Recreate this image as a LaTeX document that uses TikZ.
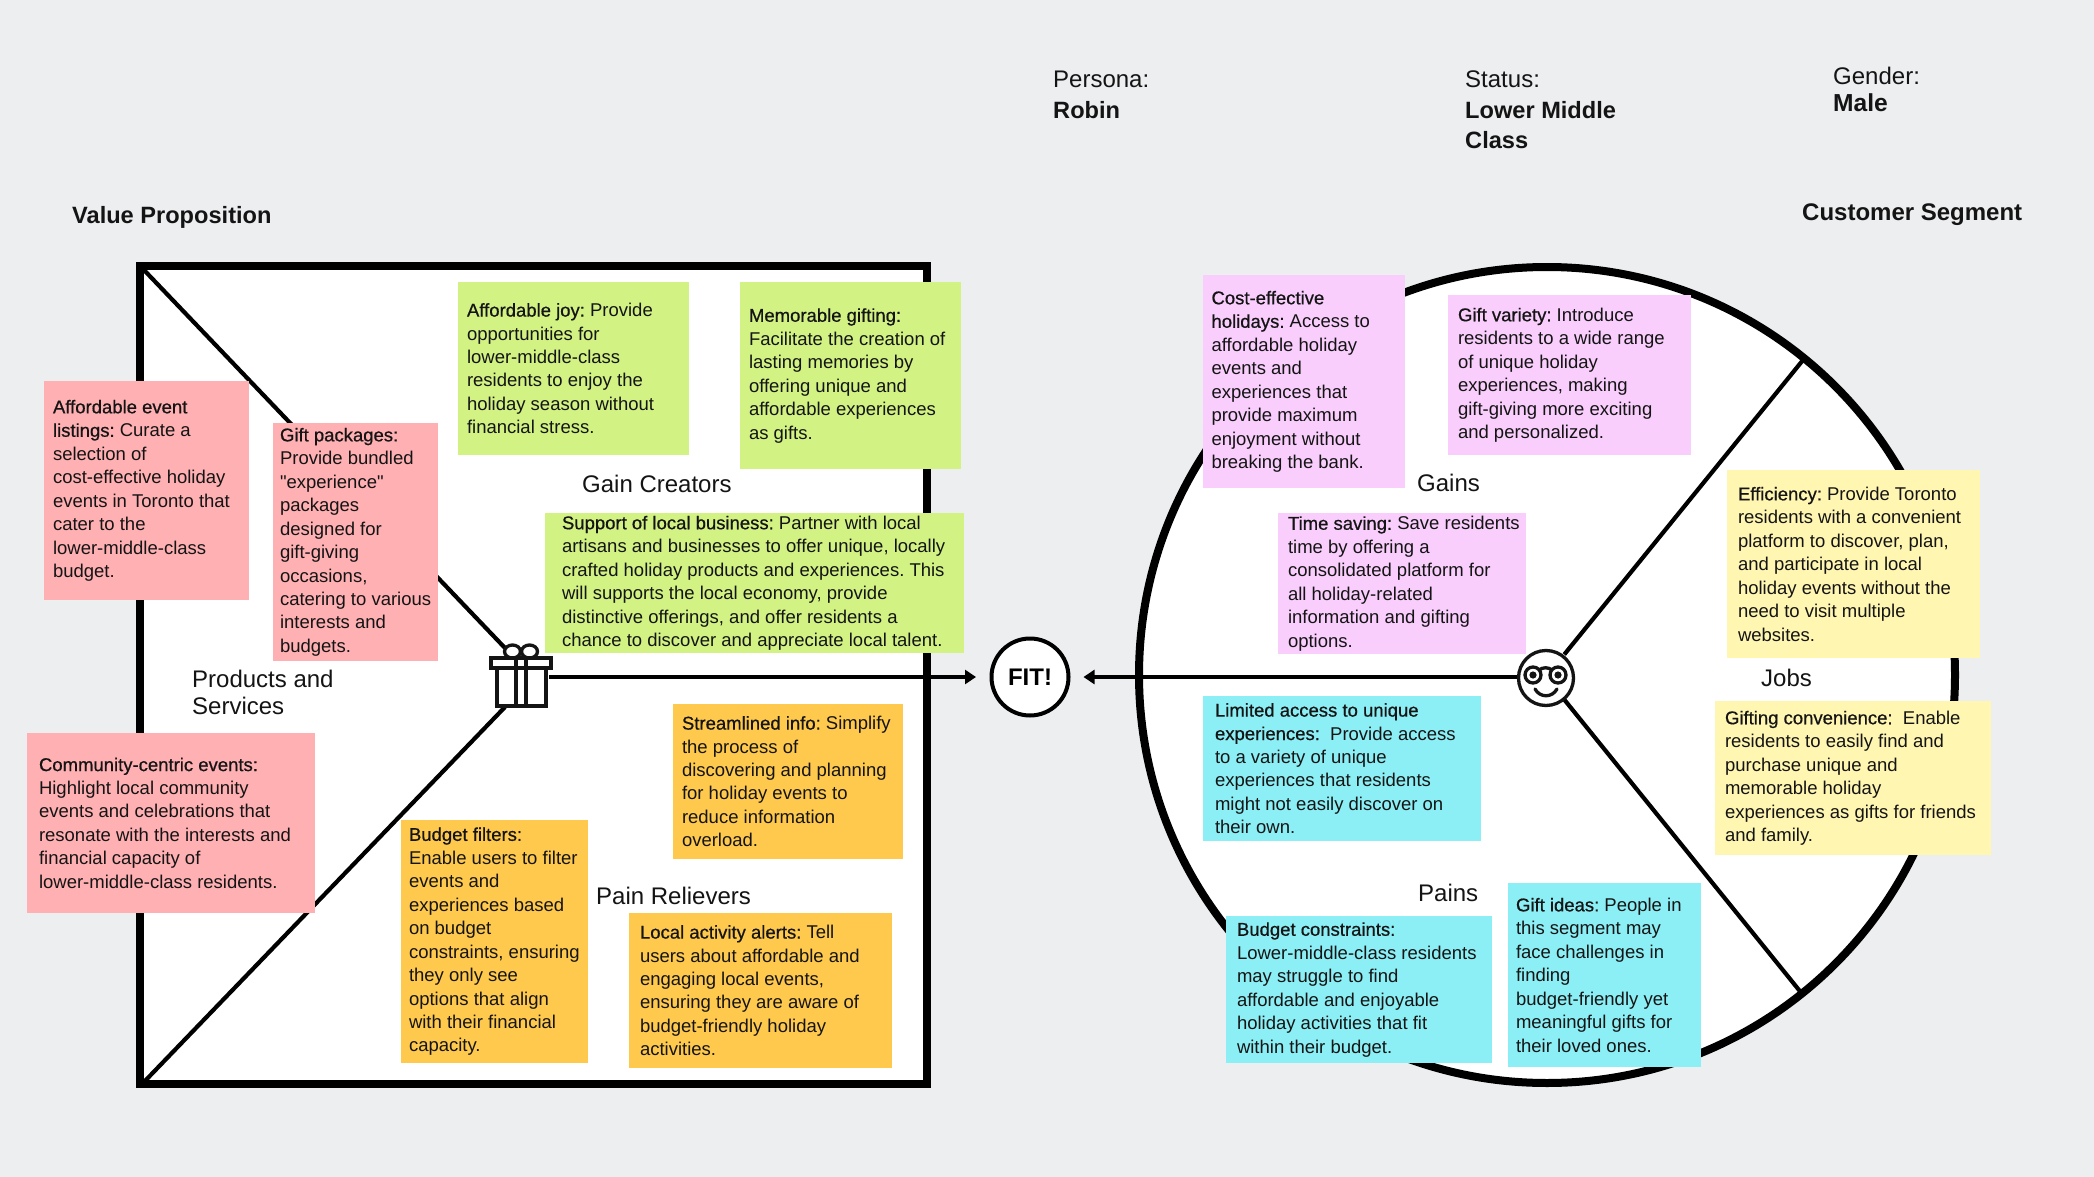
\documentclass[tikz,border=0pt]{standalone}
\usepackage{fontspec}
\setmainfont{Liberation Sans}
\newfontface\medface{Liberation Sans}[FakeBold=0.6]
\newcommand{\md}[1]{{\medface #1}}
\newcommand{\sq}{\XeTeXglyph\XeTeXcharglyph"0022\relax}
\usetikzlibrary{arrows.meta}
\definecolor{bgc}{HTML}{EDEEF0}
\definecolor{inkc}{HTML}{141414}
\definecolor{pinkc}{HTML}{FFB0B3}
\definecolor{greenc}{HTML}{D2F283}
\definecolor{orangec}{HTML}{FFC94E}
\definecolor{violetc}{HTML}{F9CEFC}
\definecolor{cyanc}{HTML}{8BEFF5}
\definecolor{yellowc}{HTML}{FFF6B2}
\tikzset{
  stickybox/.style={inner sep=0pt,outer sep=0pt},
  stickytext/.style={inner sep=0pt,outer sep=0pt,align=left,text=inkc,font=\fontsize{18.5}{23.45}\selectfont},
  label/.style={inner sep=0pt,anchor=west,align=left,text=inkc,font=\fontsize{24}{27}\selectfont},
  head/.style={inner sep=0pt,anchor=west,align=left,text=inkc,font=\fontsize{23.6}{30}\selectfont\bfseries},
  frameline/.style={line width=8pt,draw=black},
  spoke/.style={line width=4.2pt,draw=black},
  fitarrow/.style={line width=4.2pt,draw=black,-{Triangle[length=11pt,width=14pt]}},
  iconline/.style={line width=3.3pt,draw=inkc},
  hook/.style={inner sep=0pt,outer sep=0pt}
}
\newcommand{\sticky}[8]{%
  \node[stickybox,fill=#6,minimum width={(#4-#2)*1pt},minimum height={(#5-#3)*1pt}] (#1) at ({(#2+#4)/2},{(#3+#5)/2}) {};
  \node[stickytext,anchor=west] (#1-t) at ({#2+#7},{(#3+#5)/2+0.1}) {#8};}
\begin{document}
\frenchspacing
\begin{tikzpicture}[x=1pt,y=-1pt]
\useasboundingbox (0,0) rectangle (2094,1177);
\fill[bgc] (0,0) rectangle (2094,1177);
% frame and wheel
\draw[frameline,fill=white] (140,266) rectangle (927,1084);
\draw[frameline,fill=white] (1547,675) circle (408);
% hooks
\node[hook,minimum width=56pt,minimum height=60pt] (gift) at (521,677) {};
\node[hook,circle,minimum size=58pt] (smiley) at (1546,677) {};
\node[hook,circle,draw=black,line width=4pt,fill=white,minimum size=77pt,font=\fontsize{24}{26}\selectfont\bfseries] (fit) at (1030,677) {FIT!};
\coordinate (sqTL) at (144,270);
\coordinate (sqBL) at (144,1082);
\coordinate (giftTop) at (505,648);
\coordinate (giftBot) at (505,707);
\coordinate (spokeUp) at (1803,360);
\coordinate (spokeDown) at (1803,995);
% connectors
\draw[spoke] (sqTL) -- (giftTop);
\draw[spoke] (sqBL) -- (giftBot);
\draw[spoke] (smiley) -- (spokeUp);
\draw[spoke] (smiley) -- (spokeDown);
\draw[fitarrow,shorten >=15.5pt] (gift.east) -- (fit.west);
\draw[fitarrow,shorten >=15pt] (smiley.west) -- (fit.east);
% gift icon
\draw[iconline,fill=white] (512.5,651.5) ellipse (8 and 6.5);
\draw[iconline,fill=white] (529.5,651.5) ellipse (8 and 6.5);
\draw[iconline,fill=white] (497,665) rectangle (546,706);
\draw[iconline,fill=white] (491,658) rectangle (551,668);
\draw[iconline] (516,658) -- (516,706);
\draw[iconline] (526,658) -- (526,706);
% smiley icon
\draw[iconline,fill=white] (1546,678) circle (27.5);
\draw[iconline] (1533,675) circle (8);
\draw[iconline] (1558,675) circle (8);
\fill[inkc] (1533,675) circle (3.6);
\fill[inkc] (1558,675) circle (3.6);
\draw[iconline] (1539,670) .. controls (1543,667) and (1548,667) .. (1552,670);
\draw[iconline,line cap=round] (1535,689) .. controls (1540,698) and (1552,698) .. (1557,689);
% header texts
\node[label] (persona) at (1053,79) {Persona:};
\node[head] (robin) at (1053,110) {Robin};
\node[label] (status) at (1465,79) {Status:};
\node[head] (lmc) at (1465,125.5) {Lower Middle\\Class};
\node[label] (gender) at (1833,76) {Gender:};
\node[head,font=\fontsize{24.6}{30}\selectfont\bfseries] (male) at (1833,103) {Male};
\node[head] (vp) at (72,217.5) {Value Proposition};
\node[head,font=\fontsize{24}{30}\selectfont\bfseries] (cs) at (1802,214.5) {Customer Segment};
% section labels
\node[label] (gc) at (582,483.5) {Gain Creators};
\node[label] (ps) at (192,692) {Products and\\Services};
\node[label] (pr) at (596,896) {Pain Relievers};
\node[label] (gains) at (1417,483) {Gains};
\node[label] (jobs) at (1761,677.5) {Jobs};
\node[label] (pains) at (1418,893) {Pains};
% sticky notes
\sticky{n1}{44}{381}{249}{600}{pinkc}{9}{\md{Affordable event}\\\md{listings:} Curate a\\selection of\\cost-effective holiday\\events in Toronto that\\cater to the\\lower-middle-class\\budget.}
\sticky{n2}{273}{423}{438}{661}{pinkc}{7}{\md{Gift packages:}\\Provide bundled\\\sq experience\sq\\packages\\designed for\\gift-giving\\occasions,\\catering to various\\interests and\\budgets.}
\sticky{n3}{27}{733}{315}{913}{pinkc}{12}{\md{Community-centric events:}\\Highlight local community\\events and celebrations that\\resonate with the interests and\\financial capacity of\\lower-middle-class residents.}
\sticky{n4}{458}{282}{689}{455}{greenc}{9}{\md{Affordable joy:} Provide\\opportunities for\\lower-middle-class\\residents to enjoy the\\holiday season without\\financial stress.}
\sticky{n5}{740}{282}{961}{469}{greenc}{9}{\md{Memorable gifting:}\\Facilitate the creation of\\lasting memories by\\offering unique and\\affordable experiences\\as gifts.}
\sticky{n6}{545}{513}{964}{653}{greenc}{17}{\md{Support of local business:} Partner with local\\artisans and businesses to offer unique, locally\\crafted holiday products and experiences. This\\will supports the local economy, provide\\distinctive offerings, and offer residents a\\chance to discover and appreciate local talent.}
\sticky{n7}{673}{704}{903}{859}{orangec}{9}{\md{Streamlined info:} Simplify\\the process of\\discovering and planning\\for holiday events to\\reduce information\\overload.}
\sticky{n8}{401}{820}{588}{1063}{orangec}{8}{\md{Budget filters:}\\Enable users to filter\\events and\\experiences based\\on budget\\constraints, ensuring\\they only see\\options that align\\with their financial\\capacity.}
\sticky{n9}{629}{913}{892}{1068}{orangec}{11}{\md{Local activity alerts:} Tell\\users about affordable and\\engaging local events,\\ensuring they are aware of\\budget-friendly holiday\\activities.}
\sticky{n10}{1203}{275}{1405}{488}{violetc}{8.5}{\md{Cost-effective}\\\md{holidays:} Access to\\affordable holiday\\events and\\experiences that\\provide maximum\\enjoyment without\\breaking the bank.}
\sticky{n11}{1448}{295}{1691}{455}{violetc}{10}{\md{Gift variety:} Introduce\\residents to a wide range\\of unique holiday\\experiences, making\\gift-giving more exciting\\and personalized.}
\sticky{n12}{1278}{513}{1526}{654}{violetc}{10}{\md{Time saving:} Save residents\\time by offering a\\consolidated platform for\\all holiday-related\\information and gifting\\options.}
\sticky{n13}{1203}{696}{1481}{841}{cyanc}{12}{\md{Limited access to unique}\\\md{experiences:}\ \ Provide access\\to a variety of unique\\experiences that residents\\might not easily discover on\\their own.}
\sticky{n14}{1226}{916}{1492}{1063}{cyanc}{11}{\md{Budget constraints:}\\Lower-middle-class residents\\may struggle to find\\affordable and enjoyable\\holiday activities that fit\\within their budget.}
\sticky{n15}{1508}{883}{1701}{1067}{cyanc}{8}{\md{Gift ideas:} People in\\this segment may\\face challenges in\\finding\\budget-friendly yet\\meaningful gifts for\\their loved ones.}
\sticky{n16}{1727}{470}{1980}{658}{yellowc}{11}{\md{Efficiency:} Provide Toronto\\residents with a convenient\\platform to discover, plan,\\and participate in local\\holiday events without the\\need to visit multiple\\websites.}
\sticky{n17}{1715}{701}{1991}{855}{yellowc}{10}{\md{Gifting convenience:}\ \ Enable\\residents to easily find and\\purchase unique and\\memorable holiday\\experiences as gifts for friends\\and family.}
\end{tikzpicture}
\end{document}
